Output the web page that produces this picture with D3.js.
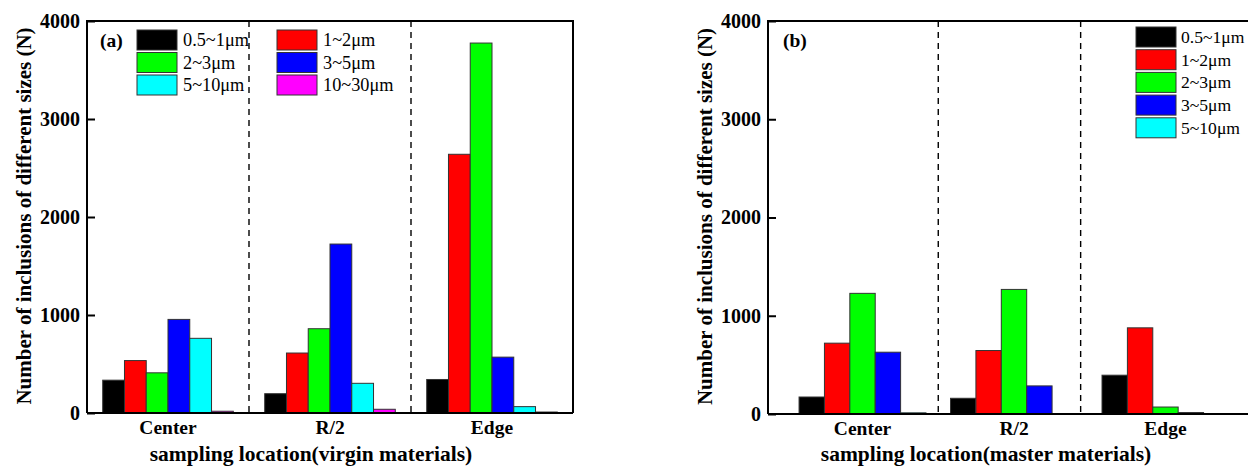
<!DOCTYPE html>
<html><head><meta charset="utf-8">
<script src="https://cdn.jsdelivr.net/npm/d3@7"></script>
<style>
html,body{margin:0;padding:0;background:#fff;}
svg{display:block;font-family:"Liberation Serif","Times New Roman",serif;}
</style></head>
<body>
<svg id="chart" width="1248" height="468"></svg>
<script>
// ---- data ----
const locations = ["Center", "R/2", "Edge"];
const yTicks = [0, 1000, 2000, 3000, 4000];

const sizesA = ["0.5~1μm", "1~2μm", "2~3μm", "3~5μm", "5~10μm", "10~30μm"];
const colorsA = ["#000000", "#ff0000", "#00ff00", "#0000ff", "#00ffff", "#ff00ff"];
// virgin materials: one array per size class, values for Center, R/2, Edge
const virgin_05_1 = [335, 197, 342];
const virgin_1_2 = [535, 612, 2640];
const virgin_2_3 = [410, 860, 3775];
const virgin_3_5 = [955, 1724, 570];
const virgin_5_10 = [762, 303, 65];
const virgin_10_30 = [18, 38, 10];
const separatorsA = [1.5, 2.5];

const sizesB = ["0.5~1μm", "1~2μm", "2~3μm", "3~5μm", "5~10μm"];
const colorsB = ["#000000", "#ff0000", "#00ff00", "#0000ff", "#00ffff"];
// master materials
const master_05_1 = [173, 160, 395];
const master_1_2 = [721, 646, 877];
const master_2_3 = [1228, 1268, 71];
const master_3_5 = [629, 286, 15];
const master_5_10 = [12, 3, 5];
const separatorsB = [1.5, 2.44];

const svg = d3.select("#chart");
const FONT = "Liberation Serif, Times New Roman, serif";

function drawPanel(o) {
  const g = svg.append("g");
  const x = d3.scaleLinear().domain(o.xDomain).range([o.left, o.right]);
  const y = d3.scaleLinear().domain([0, 4000]).range([o.bottom, o.top]);
  const n = o.series.length;
  const bw = o.groupW / n;

  // separators
  g.selectAll("line.sep").data(o.separators).enter().append("line")
    .attr("x1", d => x(d)).attr("x2", d => x(d))
    .attr("y1", y(4000)).attr("y2", y(0))
    .attr("stroke", "#000").attr("stroke-width", 1.4)
    .attr("stroke-dasharray", "6,5");

  // bars
  o.series.forEach((vals, j) => {
    g.selectAll(null).data(vals).enter().append("rect")
      .attr("x", (d, i) => x(i + 1 - o.groupW / 2 + j * bw))
      .attr("width", x(bw) - x(0))
      .attr("y", d => y(d))
      .attr("height", d => y(0) - y(d))
      .attr("fill", o.colors[j])
      .attr("stroke", "#333").attr("stroke-width", 1);
  });

  // frame
  const xr = Math.min(o.right, 1260);
  g.append("path")
    .attr("d", `M${o.left},${o.bottom}H${xr}M${o.left},${o.bottom}V${o.top}H${xr}` + (o.right < 1248 ? `V${o.bottom}` : ""))
    .attr("fill", "none").attr("stroke", "#000").attr("stroke-width", 2);

  // y axis
  const yAxis = d3.axisLeft(y).tickValues(yTicks).tickFormat(d3.format("d"))
    .tickSizeInner(-8).tickSizeOuter(0).tickPadding(8);
  const ya = g.append("g").attr("transform", `translate(${o.left},0)`).call(yAxis);
  ya.attr("font-family", FONT);
  ya.select(".domain").remove();
  ya.selectAll(".tick line").attr("stroke", "#000").attr("stroke-width", 2);
  ya.selectAll(".tick text").attr("fill", "#000").attr("font-size", 20).attr("font-weight", "bold")
    .attr("font-family", FONT).attr("x", -7);

  // x tick labels
  g.selectAll("text.xl").data(locations).enter().append("text")
    .attr("x", (d, i) => x(i + 1)).attr("y", o.bottom + 21)
    .attr("text-anchor", "middle").attr("font-size", 19.5).attr("font-weight", "bold").text(d => d);

  // axis titles
  g.append("text").attr("x", o.xTitleX).attr("y", 461)
    .attr("text-anchor", "middle").attr("font-size", 21.5).attr("font-weight", "bold").text(o.xTitle);
  g.append("text").attr("transform", `translate(${o.left - 56},${(o.top + o.bottom) / 2 - 1}) rotate(-90)`)
    .attr("text-anchor", "middle").attr("font-size", 21).attr("font-weight", "bold")
    .text("Number of inclusions of different sizes (N)");

  // panel label
  g.append("text").attr("x", o.left + o.labelDx).attr("y", 47).attr("font-size", 19.5).attr("font-weight", "bold").text(o.label);

  // legend
  const lg = g.append("g");
  o.sizes.forEach((s, i) => {
    const col = o.legendCols === 2 ? i % 2 : 0;
    const row = o.legendCols === 2 ? Math.floor(i / 2) : i;
    const lx = o.legendX + col * o.legendColW;
    const ly = o.legendY + row * o.legendRowH;
    lg.append("rect").attr("x", lx).attr("y", ly).attr("width", 40).attr("height", 20)
      .attr("fill", o.colors[i]).attr("stroke", "#333").attr("stroke-width", 1);
    lg.append("text").attr("x", lx + o.legendTextDx).attr("y", ly + 16).attr("font-size", o.legendFont).text(s);
  });
}

drawPanel({
  left: 87, right: 573, top: 21, bottom: 413,
  xDomain: [0.5, 3.5], groupW: 0.806,
  series: [virgin_05_1, virgin_1_2, virgin_2_3, virgin_3_5, virgin_5_10, virgin_10_30],
  colors: colorsA, sizes: sizesA, separators: separatorsA,
  xTitle: "sampling location(virgin materials)", xTitleX: 311,
  label: "(a)", labelDx: 13,
  legendCols: 2, legendX: 137, legendY: 30, legendColW: 140, legendRowH: 22.5,
  legendTextDx: 46, legendFont: 18.3
});

drawPanel({
  left: 768, right: 1260, top: 21, bottom: 414,
  xDomain: [0.376, 3.624], groupW: 0.838,
  series: [master_05_1, master_1_2, master_2_3, master_3_5, master_5_10],
  colors: colorsB, sizes: sizesB, separators: separatorsB,
  xTitle: "sampling location(master materials)", xTitleX: 986,
  label: "(b)", labelDx: 15,
  legendCols: 1, legendX: 1136, legendY: 27, legendColW: 0, legendRowH: 22.7,
  legendTextDx: 45, legendFont: 17.6
});
</script>
</body></html>
